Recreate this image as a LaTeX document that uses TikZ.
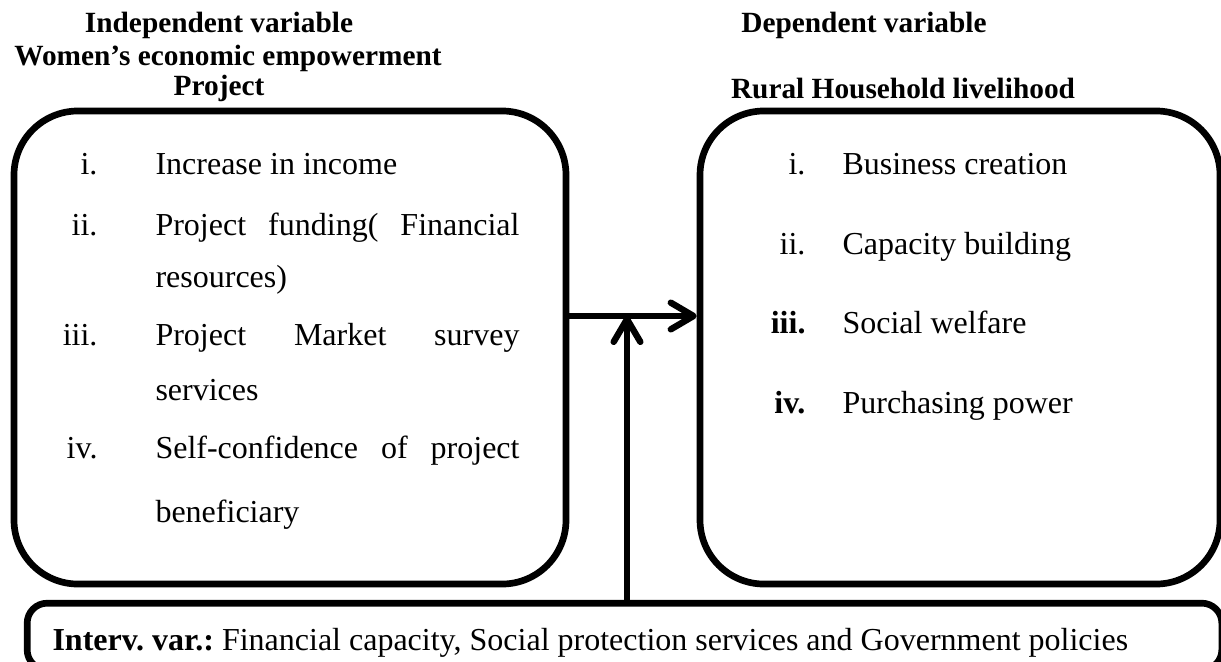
\documentclass[tikz,border=0pt]{standalone}
\usepackage{fontspec}
\setmainfont{Liberation Serif}
\usetikzlibrary{arrows.meta, positioning, calc}
\tikzset{
	varbox/.style={draw, line width=2.5pt, rounded corners=24pt, inner sep=0pt},
	intbox/.style={draw, line width=2.5pt, rounded corners=7.5pt, inner sep=0pt},
	flow/.style={draw, line width=2.4pt, -{Straight Barb[length=8.5pt, width=10pt, round]}},
	item/.style={anchor=base west, inner sep=0pt, font=\fontsize{12}{14}\selectfont},
	num/.style={anchor=base east, inner sep=0pt, font=\fontsize{12}{14}\selectfont},
	head/.style={anchor=base, inner sep=0pt, font=\fontsize{11}{13}\selectfont\bfseries}
}
% stretch a line of an item to the full column width
\newcommand{\justline}[1]{\makebox[136.5pt][s]{#1}}
\frenchspacing

\begin{document}
\begin{tikzpicture}[x=0.375pt, y=-0.375pt]
	\useasboundingbox (0,0) rectangle (1221,661);
	
	% Headings above the two boxes
	\node[head] (indeptitle) at (219,32) {Independent variable};
	\node[head] (wee) at (228,65) {Women's economic empowerment};
	\node[head] (proj) at (219,95) {Project};
	\node[head] (deptitle) at (864,32) {Dependent variable};
	\node[head] (rhl) at (903,98) {Rural Household livelihood};
	
	% The three boxes
	\node[varbox, minimum width=207pt, minimum height=177.4pt] (indep) at (290,347.5) {};
	\node[varbox, minimum width=195pt, minimum height=177.4pt] (dep) at (960,347.5) {};
	\node[intbox, minimum width=448pt, minimum height=25pt] (interv) at (624.5,636.5) {};
	
	% Independent variable items
	\node[num] (n1) at (98,174) {i.};
	\node[item] (t1) at (155,174) {Increase in income};
	\node[num] (n2) at (98,235) {ii.};
	\node[item] (t2) at (155,235) {\justline{Project funding( Financial}};
	\node[item] (t2b) at (155,287) {resources)};
	\node[num] (n3) at (98,345) {iii.};
	\node[item] (t3) at (155,345) {\justline{Project Market survey}};
	\node[item] (t3b) at (155,400) {services};
	\node[num] (n4) at (98,458) {iv.};
	\node[item] (t4) at (155,458) {\justline{Self-confidence of project}};
	\node[item] (t4b) at (155,522) {beneficiary};
	
	% Dependent variable items
	\node[num] (m1) at (806,174) {i.};
	\node[item] (s1) at (842,174) {Business creation};
	\node[num] (m2) at (806,254) {ii.};
	\node[item] (s2) at (842,254) {Capacity building};
	\node[num] (m3) at (806,333) {\bfseries iii.};
	\node[item] (s3) at (842,333) {Social welfare};
	\node[num] (m4) at (806,413) {\bfseries iv.};
	\node[item] (s4) at (842,413) {Purchasing power};
	
	% Intervening variables
	\node[item] (ivar) at (52,650) {\textbf{Interv. var.:} Financial capacity, Social protection services and Government policies};
	
	% Arrows
	\coordinate (join) at (627,316);
	\draw[flow] (indep.east |- join) -- (dep.west |- join);
	\draw[flow] (interv.north -| join) -- (join);
\end{tikzpicture}
\end{document}
